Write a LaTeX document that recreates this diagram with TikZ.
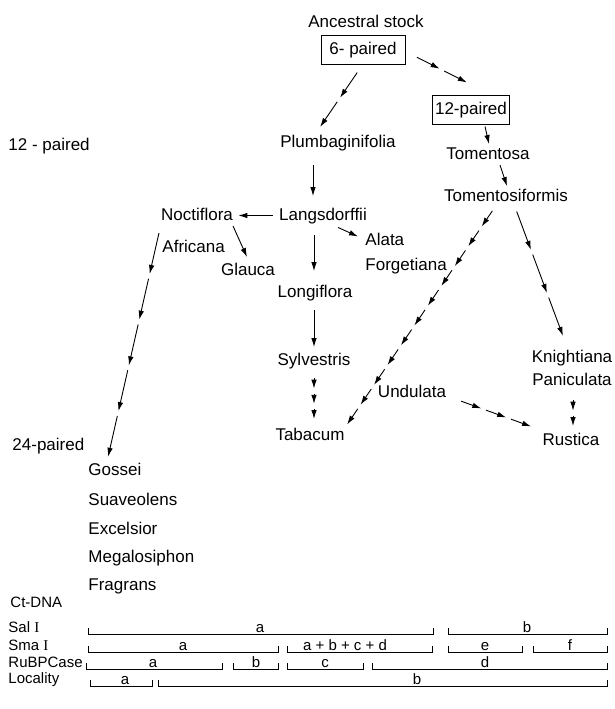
\documentclass[tikz,border=0pt]{standalone}
\usepackage{fontspec}
\setmainfont{Liberation Sans}
\newfontfamily\romfont{Liberation Serif}
\usetikzlibrary{arrows.meta,decorations.markings}

\tikzset{
  lbl/.style={anchor=base, inner sep=2pt, text height=12.5pt, text depth=3.5pt},
  lblw/.style={lbl, anchor=base west},
  pairbox/.style={draw, line width=1pt, inner xsep=3pt, inner ysep=0pt,
    minimum height=29pt, text height=12.5pt, text depth=3.5pt},
  % broken arrow: #1 pieces, each with its own head
  brk/.style={decoration={markings,
      mark=between positions 1/#1-0.001 and 1 step 1/#1 with
        {\draw[->] (-\pgfdecoratedpathlength/#1+5pt,0) -- (0,0);}},
    postaction={decorate}},
  rowfont/.style={font=\fontsize{15}{17}\selectfont},
}

\begin{document}
\begin{tikzpicture}[x=1pt,y=-1pt,>={Latex[length=9pt,width=5.5pt]},line width=0.9pt,
  font=\fontsize{17}{20}\selectfont]
\useasboundingbox (0,0) rectangle (614,709);

%ancestors
\node[lbl] (anc) at (366,28) {Ancestral stock};
\node[pairbox, minimum width=84pt] (six) at (363,50.5) {6- paired};
\node[pairbox] (twelve) at (471,109.5) {12-paired};

%12-paired group
\node[lblw] (lvltwelve) at (6,150) {12 - paired};
\node[lbl] (plumb) at (338,147) {Plumbaginifolia};
\node[lbl] (tomentosa) at (488,159) {Tomentosa};
\node[lbl] (tomsif) at (506,201) {Tomentosiformis};
\node[lbl] (langs) at (323,220) {Langsdorffii};
\node[lbl] (noct) at (197,220) {Noctiflora};
\node[lblw] (alata) at (363,245) {Alata};
\node[lblw] (forget) at (363,270) {Forgetiana};
\node[lblw] (africana) at (160,252) {Africana};
\node[lbl] (glauca) at (248,275) {Glauca};
\node[lbl] (longi) at (315,297) {Longiflora};
\node[lbl] (sylv) at (314,365) {Sylvestris};
\node[lbl] (knight) at (572,362) {Knightiana};
\node[lbl] (panic) at (572,385) {Paniculata};
\node[lbl] (undul) at (412,397) {Undulata};

%24-paired group
\node[lblw] (lvltwfour) at (10,450) {24-paired};
\node[lbl] (tabac) at (310,440) {Tabacum};
\node[lbl] (rust) at (571,445) {Rustica};
\node[lblw] (gossei) at (86,475) {Gossei};
\node[lblw] (suav) at (86,505) {Suaveolens};
\node[lblw] (excel) at (86,534) {Excelsior};
\node[lblw] (mega) at (86,562) {Megalosiphon};
\node[lblw] (frag) at (86,590) {Fragrans};

%solid arrows
\draw[->] ([xshift=14pt,yshift=-2pt]twelve.south) -- ([xshift=1pt]tomentosa.north);
\draw[->] ([xshift=12pt]tomentosa.south) -- ([xshift=1pt]tomsif.north);
\draw[->] ([xshift=-25pt,yshift=-12.5pt]plumb.south) -- ([xshift=-10pt,yshift=9pt]langs.north);
\draw[->,shorten <=4pt,shorten >=3pt] (langs.west) -- (noct.east);
\draw[->] ([xshift=15pt,yshift=-1.5pt]langs.south) -- ([xshift=-5pt,yshift=4pt]alata.west);
\draw[->] ([xshift=-9pt,yshift=-9pt]langs.south) -- ([xshift=-1pt,yshift=11pt]longi.north);
\draw[->] ([xshift=-1pt,yshift=-7.5pt]longi.south) -- ([yshift=3pt]sylv.north);
\draw[->] ([xshift=36pt]noct.south) -- ([xshift=-1pt,yshift=3pt]glauca.north);

%broken arrows
\path[brk=2] ([xshift=-3pt,yshift=-3pt]six.south) -- ([xshift=-18pt,yshift=5pt]plumb.north);
\path[brk=2] ([xshift=7pt,yshift=-4.5pt]six.east) -- ([xshift=-4pt,yshift=12pt]twelve.north);
\path[brk=3] ([yshift=-2.5pt]sylv.south) -- ([xshift=4pt,yshift=6pt]tabac.north);
\path[brk=5] ([xshift=-37pt,yshift=-2.5pt]noct.south) -- ([xshift=22pt,yshift=3pt]gossei.north west);
\path[brk=11] ([xshift=-11pt]tomsif.south) -- ([yshift=10.75pt]tabac.east);
\path[brk=3] ([xshift=9pt]tomsif.south) -- ([xshift=-9pt,yshift=11pt]knight.north);
\path[brk=2] ([xshift=1pt,yshift=-4.5pt]panic.south) -- ([xshift=2pt,yshift=4pt]rust.north);
\path[brk=3] ([xshift=8pt,yshift=-7pt]undul.east) -- ([xshift=-9pt,yshift=14pt]rust.west);

%marker table
\begin{scope}[rowfont]
\node[lblw] (ctdna) at (8,607) {Ct-DNA};
\node[lblw] (sal) at (6,632) {Sal {\romfont I}};
\node[lblw] (sma) at (6,650) {Sma {\romfont I}};
\node[lblw] (rubp) at (6,667) {RuBPCase};
\node[lblw] (local) at (6,683) {Locality};
\foreach \xa/\xb/\xl/\yl/\lab in {88/433/260/634/a, 448/607/527/634/b,
    88/278/183/652/a, 287/432/345/652/{a + b + c + d}, 448/522/485/652/e, 533/607/570/652/f,
    86/222/153/669/a, 233/278/256/669/b, 287/363/325/669/c, 372/607/485/669/d,
    90/152/125/686/a, 158/607/417/686/b}{
  \draw (\xa,\yl-6) -- (\xa,\yl) -- (\xb,\yl) -- (\xb,\yl-6);
  \node[anchor=base, inner sep=0pt] (br-\xa-\yl) at (\xl,\yl-1.5) {\lab};
}
\end{scope}
\end{tikzpicture}
\end{document}
